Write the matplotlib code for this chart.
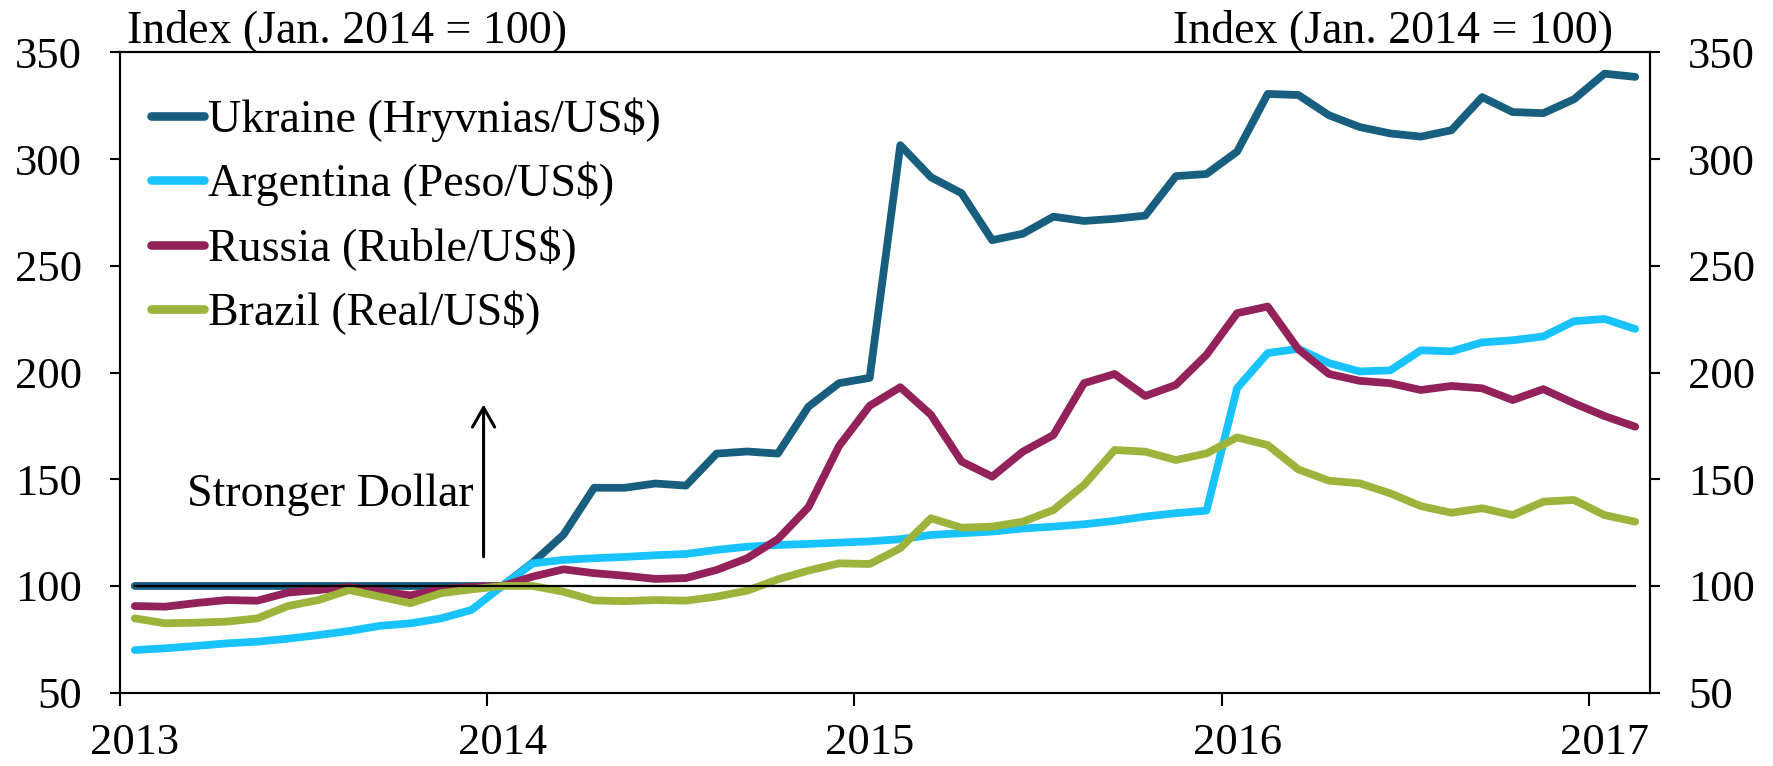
import numpy as np
import matplotlib
matplotlib.use('Agg')
import matplotlib.pyplot as plt

plt.rcParams['font.family'] = ['Liberation Serif', 'DejaVu Serif']

# monthly, Jan 2013 .. Feb 2017, index Jan 2014 = 100
months = np.arange(50) + 0.5
ukraine = [100, 100, 100, 100, 100, 100, 100, 100, 100, 100,
           100, 100, 100, 111, 124, 146, 146, 148, 147, 162,
           163, 162, 184, 195, 197.5, 306.5, 291.5, 284, 262, 265,
           273, 271, 272, 273.5, 292, 293, 303.5, 330.5, 330, 320.5,
           315, 312, 310.5, 313.5, 329, 322, 321.5, 328, 340, 338.5]
argentina = [70, 70.8, 71.9, 73.1, 73.9, 75.3, 77.0, 78.9, 81.3, 82.5,
             84.8, 88.8, 100, 110.6, 112.2, 113.0, 113.6, 114.4, 115.0, 116.9,
             118.4, 119.2, 119.7, 120.3, 120.9, 121.9, 123.9, 124.7, 125.5, 126.9,
             127.8, 128.9, 130.5, 132.5, 134.1, 135.3, 192.7, 209.1, 211.1, 204.4,
             200.5, 201.0, 210.4, 209.9, 214.1, 215.1, 216.9, 224.0, 225.1, 220.4]
russia = [90.6, 90.3, 92.0, 93.4, 93.1, 96.9, 98.1, 99.5, 97.5, 95.6,
          98.5, 99.6, 100, 104.4, 107.8, 106, 104.8, 103.3, 103.7, 107.5,
          113, 121.9, 136.9, 165.6, 184.4, 193.1, 180.2, 158.3, 151.2, 162.9,
          170.7, 195, 199.3, 189, 194.2, 208.3, 227.8, 230.9, 210.9, 199.3,
          196.1, 195, 191.8, 193.7, 192.6, 187.1, 192.2, 185.6, 179.6, 174.6]
brazil = [84.8, 82.5, 82.8, 83.3, 84.8, 90.6, 93.4, 98.1, 95.0, 91.9,
          96.6, 98.4, 100, 100, 97.3, 93.2, 92.9, 93.4, 93.1, 95,
          97.8, 103.1, 107.2, 110.6, 110.3, 117.7, 131.7, 127.3, 127.8, 130.1,
          135.6, 147.3, 163.7, 162.9, 159, 162.1, 169.6, 166, 154.6, 149.3,
          148.1, 143.4, 137.4, 134.3, 136.4, 133.2, 139.5, 140.3, 133.2, 130.1]
baseline = [100] * len(months)

year_ticks = [0, 12, 24, 36, 48]
year_labels = ['2013', '2014', '2015', '2016', '2017']
y_ticks = [50, 100, 150, 200, 250, 300, 350]

fig = plt.figure(figsize=(17.73, 7.66), dpi=100)
ax = fig.add_axes([0.0674, 0.0957, 0.8635, 0.836])

lw = 5.6
ax.plot(months, ukraine, color='#175E7F', lw=lw, solid_capstyle='round', label='Ukraine (Hryvnias/US$)')
ax.plot(months, argentina, color='#19C3FF', lw=lw, solid_capstyle='round', label='Argentina (Peso/US$)')
ax.plot(months, russia, color='#922259', lw=lw, solid_capstyle='round', label='Russia (Ruble/US$)')
ax.plot(months, brazil, color='#9CB43B', lw=lw, solid_capstyle='round', label='Brazil (Real/US$)')
ax.plot(months, baseline, color='black', lw=1.6)

ax.set_xlim(0, 50)
ax.set_ylim(50, 350)
ax.set_yticks(y_ticks)
ax.set_xticks(year_ticks)
ax.set_xticklabels([])
ax.set_xticks([t + 0.5 for t in year_ticks], minor=True)
ax.set_xticklabels(year_labels, minor=True)
ax.tick_params(axis='x', which='major', direction='out', length=9, width=1.5)
ax.tick_params(axis='x', which='minor', length=0, pad=22, labelsize=32)
ax.tick_params(axis='y', direction='out', length=7, width=1.5, pad=20, labelsize=32)
for s in ax.spines.values():
    s.set_linewidth(1.5)

ax2 = ax.twinx()
ax2.set_ylim(50, 350)
ax2.set_yticks(y_ticks)
ax2.tick_params(axis='y', direction='out', length=7, width=1.5, pad=20, labelsize=32)
for s in ax2.spines.values():
    s.set_linewidth(1.5)

leg = ax.legend(loc='upper left', bbox_to_anchor=(0.0206, 0.93), frameon=False,
                fontsize=33, borderpad=0, borderaxespad=0, handlelength=1.15,
                handletextpad=0.1, labelspacing=0.44)
for h in leg.get_lines():
    h.set_linewidth(lw + 0.6)
    h.set_solid_capstyle('round')

ax.annotate('', xy=(11.89, 185), xytext=(11.89, 113.7),
            arrowprops=dict(arrowstyle='->,head_length=0.7,head_width=0.4', lw=2.2,
                            color='black', mutation_scale=20, shrinkA=0, shrinkB=0))
ax.text(11.55, 137.5, 'Stronger Dollar', fontsize=33, ha='right', va='baseline')

fig.text(127 / 1773, 0.945, 'Index (Jan. 2014 = 100)', fontsize=33, ha='left', va='baseline')
fig.text(1613 / 1773, 0.945, 'Index (Jan. 2014 = 100)', fontsize=33, ha='right', va='baseline')

fig.savefig('out.png', dpi=100)
